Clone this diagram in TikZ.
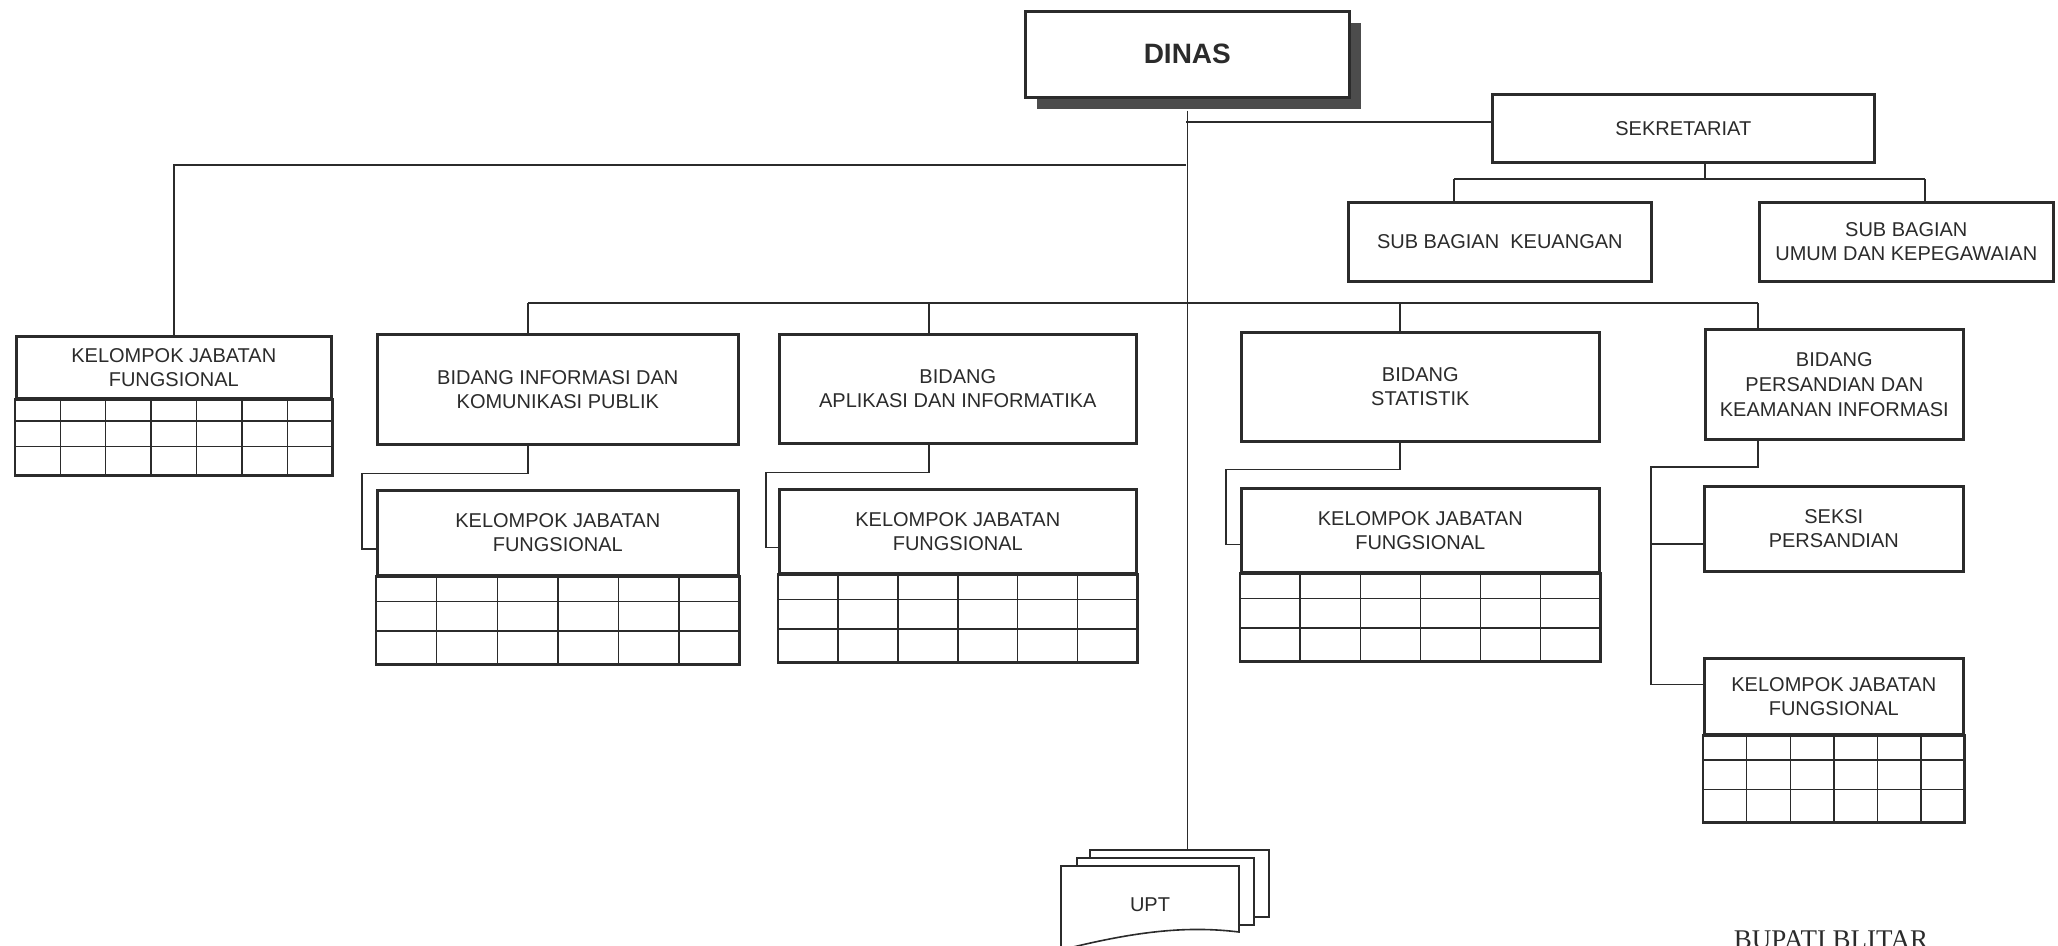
\documentclass[tikz,border=0pt]{standalone}
\usepackage{fontspec}
\setmainfont{Liberation Sans}
\newfontfamily\bupatifont{Liberation Serif}
\usetikzlibrary{calc,shadows}
\definecolor{ink}{HTML}{2B2B2B}
\tikzset{every picture/.style={line width=1.4pt}}
\newcommand{\kjfgrid}[3]{% node, kolom, tinggi
  \draw[line width=2.6pt] (#1.south west) rectangle ([yshift=-#3pt]#1.south east);
  \foreach \r in {0.28,0.62}
    \draw ([yshift=-\r*#3pt]#1.south west) -- ([yshift=-\r*#3pt]#1.south east);
  \pgfmathtruncatemacro\ncol{#2-1}
  \foreach \c in {1,...,\ncol}
    \draw ($(#1.south west)!\c/#2!(#1.south east)$) -- ++(0,#3);
}

\begin{document}
\begin{tikzpicture}[x=1pt,y=-1pt,color=ink,
  kotak/.style={draw,line width=2.6pt,fill=white,align=center,inner sep=0pt,anchor=north west,font=\fontsize{20}{24}\selectfont},
  lembar/.style={draw,line width=1.6pt,fill=white,anchor=north west}]
\useasboundingbox (0,0) rectangle (2058,945);
\clip (0,0) rectangle (2058,945);

% kepala dinas
\node[kotak,minimum width=324,minimum height=86,font=\fontsize{28}{32}\selectfont\bfseries,
  drop shadow={shadow xshift=12pt,shadow yshift=-12pt,fill=black!70,opacity=1}] (dinas) at (1024,10) {DINAS};

% sekretariat
\node[kotak,minimum width=382,minimum height=68] (sekre) at (1491,93) {SEKRETARIAT};
\node[kotak,minimum width=303,minimum height=79] (keu) at (1347,201) {SUB BAGIAN\ \ KEUANGAN};
\node[kotak,minimum width=294,minimum height=79] (umum) at (1758,201) {SUB BAGIAN\\UMUM DAN KEPEGAWAIAN};

% bidang
\node[kotak,minimum width=361,minimum height=110] (bid1) at (376,333) {BIDANG INFORMASI DAN\\KOMUNIKASI PUBLIK};
\node[kotak,minimum width=357,minimum height=109] (bid2) at (778,333) {BIDANG\\APLIKASI DAN INFORMATIKA};
\node[kotak,minimum width=358,minimum height=109] (bid3) at (1240,331) {BIDANG\\STATISTIK};
\node[kotak,minimum width=258,minimum height=110,font=\fontsize{20}{25}\selectfont] (bid4) at (1704,328) {BIDANG\\PERSANDIAN DAN\\KEAMANAN INFORMASI};
\node[kotak,minimum width=259,minimum height=85] (seksi) at (1703,485) {SEKSI\\PERSANDIAN};

% kelompok jabatan fungsional
\node[kotak,minimum width=315,minimum height=62] (kjf0) at (15,335) {KELOMPOK JABATAN\\FUNGSIONAL};
\node[kotak,minimum width=361,minimum height=85] (kjf1) at (376,489) {KELOMPOK JABATAN\\FUNGSIONAL};
\node[kotak,minimum width=357,minimum height=84] (kjf2) at (778,488) {KELOMPOK JABATAN\\FUNGSIONAL};
\node[kotak,minimum width=358,minimum height=84] (kjf3) at (1240,487) {KELOMPOK JABATAN\\FUNGSIONAL};
\node[kotak,minimum width=259,minimum height=76] (kjf4) at (1703,657) {KELOMPOK JABATAN\\FUNGSIONAL};
\kjfgrid{kjf0}{7}{76}
\kjfgrid{kjf1}{6}{88}
\kjfgrid{kjf2}{6}{88}
\kjfgrid{kjf3}{6}{88}
\kjfgrid{kjf4}{6}{87}

% upt
\node[lembar,minimum width=179,minimum height=67] (upt3) at (1089,849) {};
\node[lembar,minimum width=177,minimum height=67] (upt2) at (1076,857) {};
\draw[line width=1.6pt,fill=white] (1061,866) -- (1239,866) -- (1239,932) .. controls (1190,926) and (1140,930) .. (1061,950) -- cycle;
\node[font=\fontsize{20}{24}\selectfont] (upt) at (1150,905) {UPT};

% garis
\coordinate (jS) at (1186,122);
\coordinate (jL) at (1186,165);
\coordinate (sd) at (1705,179);
\coordinate (s1) at (1454,179);
\coordinate (s2) at (1925,179);
\coordinate (b1) at (528,303);
\coordinate (b2) at (929,303);
\coordinate (b3) at (1400,303);
\coordinate (b4) at (1758,303);
\coordinate (c4) at (1651,467);

\draw ([yshift=-12pt]dinas.south) -- (dinas.south |- upt3.north); % garis utama
\draw (jS) -- (jS -| sekre.west);
\draw (jL) -| (kjf0.north);
\draw (sd |- sekre.south) -- (sd);
\draw (s1) -- (s2);
\draw (s1) -- (s1 |- keu.north);
\draw (s2) -- (s2 |- umum.north);
\draw (b1) -- (b4);
\foreach \b in {1,...,4} \draw (b\b) -- (b\b |- bid\b.north);
\draw (b1 |- bid1.south) |- ++(-166,28) |- ([yshift=-16pt]kjf1.west);
\draw (b2 |- bid2.south) |- ++(-163,28) |- ([yshift=-16pt]kjf2.west);
\draw (b3 |- bid3.south) |- ++(-174,27) |- ([yshift=-14pt]kjf3.west);
\draw (b4 |- bid4.south) |- (c4) |- ([yshift=12pt]kjf4.west);
\draw ([yshift=-15pt]seksi.west) -- ([yshift=-15pt]seksi.west -| c4);

\node[font=\bupatifont\fontsize{27}{30}\selectfont,anchor=base] (bupati) at (1831,948) {BUPATI BLITAR};
\end{tikzpicture}
\end{document}
